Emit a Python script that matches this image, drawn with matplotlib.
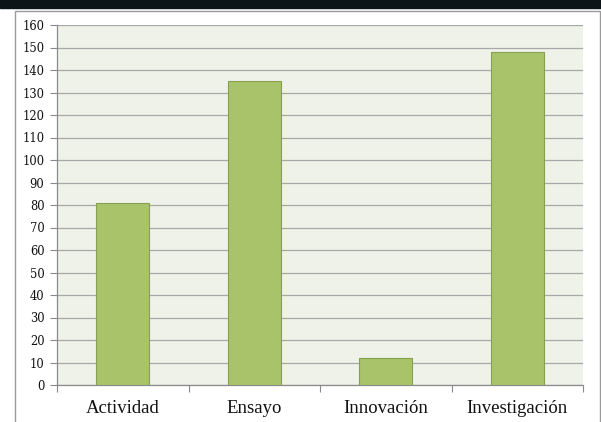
import matplotlib
matplotlib.use("Agg")
import matplotlib.pyplot as plt
from matplotlib.patches import Rectangle
import numpy as np

categories = ["Actividad", "Ensayo", "Innovación", "Investigación"]
values = [81, 135, 12, 148]
yticks = list(range(0, 161, 10))

W, H = 601, 422
fig = plt.figure(figsize=(W/100, H/100), dpi=100)
fig.patch.set_facecolor("white")

# dark band at top
band = Rectangle((0, 1 - 8/H), 1, 8/H, transform=fig.transFigure, color="#0d1418", zorder=0)
fig.patches.append(band)
# outer frame
frame = Rectangle((15/W, -0.01), (600-15)/W, (H-11)/H + 0.01, transform=fig.transFigure,
                  fill=False, edgecolor="#9a9a9a", linewidth=1.0, zorder=1)
fig.patches.append(frame)

left, right, top, bottom = 57, 583, 25, 385
ax = fig.add_axes([left/W, 1 - bottom/H, (right-left)/W, (bottom-top)/H])
ax.set_facecolor("#eff2e9")

x = np.arange(len(categories))
ax.bar(x, values, width=0.4, color="#a9c36b", edgecolor="#86a04e", linewidth=0.8, zorder=3)

ax.set_xlim(-0.5, len(categories) - 0.5)
ax.set_ylim(0, 160)
ax.set_yticks(yticks)
ax.set_yticklabels([str(t) for t in yticks], family="DejaVu Serif", fontsize=8.3)
ax.yaxis.grid(True, color="#a8a8a8", linewidth=0.9, zorder=0)
ax.set_axisbelow(True)

ax.set_xticks(np.arange(-0.5, len(categories), 1.0))
ax.set_xticklabels([])
ax.set_xticks(x, minor=True)
ax.set_xticklabels(categories, minor=True, family="Liberation Serif", fontsize=13.5)
ax.tick_params(axis="x", which="minor", length=0, pad=11, labelcolor="#111111")
ax.tick_params(axis="x", which="major", length=5, color="#8a8a8a", direction="out")
ax.tick_params(axis="y", length=5, color="#8a8a8a", pad=4, labelcolor="#111111")

for s in ["top", "right"]:
    ax.spines[s].set_visible(False)
for s in ["left", "bottom"]:
    ax.spines[s].set_color("#8a8a8a")
    ax.spines[s].set_linewidth(0.9)

fig.savefig("out.png", dpi=100)
